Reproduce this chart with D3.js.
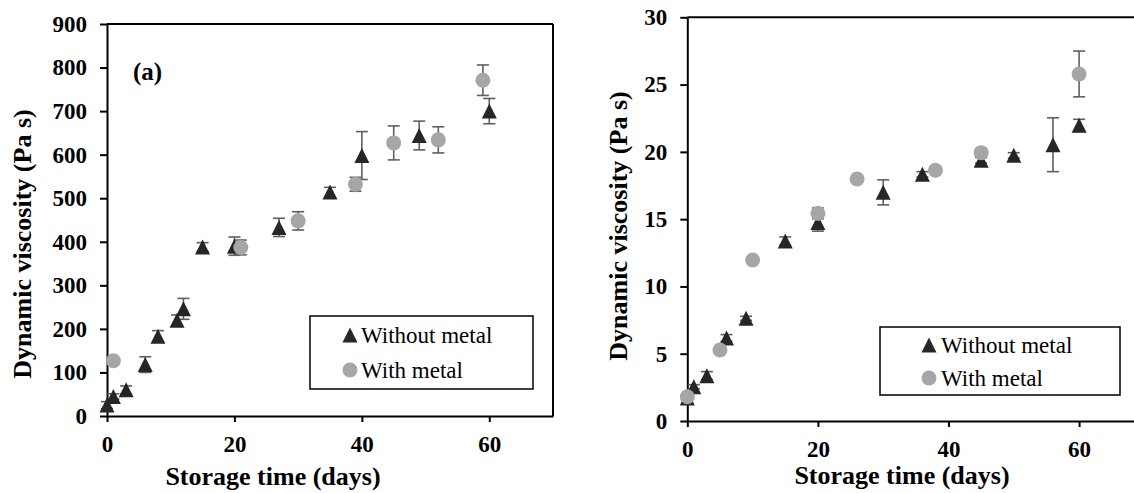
<!DOCTYPE html>
<html>
<head>
<meta charset="utf-8">
<script src="https://cdn.jsdelivr.net/npm/d3@7"></script>
<style>
  html, body { margin: 0; padding: 0; background: #fff; }
  svg { display: block; font-family: "Liberation Serif", "Times New Roman", serif; }
</style>
</head>
<body>
<svg id="chart" width="1134" height="493"></svg>
<script>
// ---------- Data (panel a) ----------
const daysA_without = [0, 1, 3, 6, 8, 11, 12, 15, 20, 27, 35, 40, 49, 60];
const viscA_without = [25, 45, 60, 118, 183, 220, 246, 388, 390, 433, 514, 598, 644, 700];
const errA_without  = [8, 6, 9, 18, 13, 12, 24, 10, 21, 21, 11, 55, 33, 29];
const daysA_with = [1, 21, 30, 39, 45, 52, 59];
const viscA_with = [127, 387, 448, 532, 627, 634, 771];
const errA_with  = [5, 17, 21, 16, 39, 30, 35];
const yTicksA = [0, 100, 200, 300, 400, 500, 600, 700, 800, 900];

// ---------- Data (panel b) ----------
const daysB_without = [0, 1, 3, 6, 9, 15, 20, 30, 36, 45, 50, 56, 60];
const viscB_without = [1.7, 2.55, 3.37, 6.17, 7.63, 13.38, 14.76, 16.99, 18.33, 19.37, 19.74, 20.53, 21.97];
const errB_without  = [0.3, 0.15, 0.3, 0.25, 0.15, 0.3, 0.65, 0.93, 0.2, 0.2, 0.2, 2.0, 0.45];
const daysB_with = [0, 5, 10, 20, 26, 38, 45, 60];
const viscB_with = [1.8, 5.28, 11.96, 15.43, 17.98, 18.63, 19.94, 25.79];
const errB_with  = [0.1, 0.1, 0.1, 0.4, 0.1, 0.1, 0.1, 1.7];
const yTicksB = [0, 5, 10, 15, 20, 25, 30];

const xTicks = [0, 20, 40, 60];
const seriesNames = ["Without metal", "With metal"];

const COL_TRI = "#262626";
const COL_CIR = "#a6a6a6";
const COL_ERR = "#5f5f5f";

const svg = d3.select("#chart");

function zip(d, v, e) { return d.map((x, i) => ({ x, y: v[i], e: e[i] })); }

function triPath(s) { return `M0,${-s} L${s},${s} L${-s},${s} Z`; }

function drawPanel(cfg) {
  const g = svg.append("g");
  const x = d3.scaleLinear().domain([0, 70]).range([cfg.x0, cfg.x1]);
  const y = d3.scaleLinear().domain([0, cfg.yMax]).range([cfg.y0, cfg.y1]);

  // frame (top and right)
  g.append("line").attr("x1", cfg.x0).attr("x2", cfg.x1).attr("y1", cfg.y1).attr("y2", cfg.y1)
    .attr("stroke", "#000").attr("stroke-width", 2);
  g.append("line").attr("x1", cfg.x1).attr("x2", cfg.x1).attr("y1", cfg.y1).attr("y2", cfg.y0)
    .attr("stroke", "#000").attr("stroke-width", 2);

  // axes
  const yAxis = d3.axisLeft(y).tickValues(cfg.yTicks).tickSize(7).tickSizeOuter(0).tickPadding(13);
  const xAxis = d3.axisBottom(x).tickValues(xTicks).tickSize(6).tickSizeOuter(0).tickPadding(13.5);
  const ya = g.append("g").attr("transform", `translate(${cfg.x0},0)`).call(yAxis);
  const xa = g.append("g").attr("transform", `translate(0,${cfg.y0})`).call(xAxis);
  [ya, xa].forEach(a => {
    a.select(".domain").attr("stroke", "#000").attr("stroke-width", 2);
    a.selectAll(".tick line").attr("stroke", "#000").attr("stroke-width", 2);
    a.selectAll(".tick text").attr("fill", "#000")
      .style("font-family", '"Liberation Serif", serif')
      .style("font-weight", "bold").style("font-size", "23px");
  });

  // series
  const dW = zip(cfg.dW, cfg.vW, cfg.eW);
  const dC = zip(cfg.dC, cfg.vC, cfg.eC);

  function errBars(data) {
    const eb = g.append("g").attr("stroke", COL_ERR).attr("stroke-width", 1.6);
    data.forEach(d => {
      const px = x(d.x), yt = y(d.y + d.e), yb = y(d.y - d.e);
      eb.append("line").attr("x1", px).attr("x2", px).attr("y1", yt).attr("y2", yb);
      eb.append("line").attr("x1", px - 6).attr("x2", px + 6).attr("y1", yt).attr("y2", yt);
      eb.append("line").attr("x1", px - 6).attr("x2", px + 6).attr("y1", yb).attr("y2", yb);
    });
  }
  errBars(dW);
  g.append("g").selectAll("path").data(dW).join("path")
    .attr("d", triPath(7.5))
    .attr("transform", d => `translate(${x(d.x)},${y(d.y)})`)
    .attr("fill", COL_TRI);
  errBars(dC);
  g.append("g").selectAll("circle").data(dC).join("circle")
    .attr("cx", d => x(d.x)).attr("cy", d => y(d.y)).attr("r", 7.5)
    .attr("fill", COL_CIR);

  // axis titles
  g.append("text").attr("x", cfg.xtX).attr("y", cfg.xtY).attr("text-anchor", "middle")
    .style("font-weight", "bold").style("font-size", "26px").attr("fill", "#000")
    .text("Storage time (days)");
  g.append("text").attr("transform", `translate(${cfg.ytX},${cfg.ytY}) rotate(-90)`)
    .attr("text-anchor", "middle")
    .style("font-weight", "bold").style("font-size", "26px").attr("fill", "#000")
    .text("Dynamic viscosity (Pa s)");

  // legend
  const L = cfg.legend;
  const lg = g.append("g");
  lg.append("rect").attr("x", L.x).attr("y", L.y).attr("width", L.w).attr("height", L.h)
    .attr("fill", "#fff").attr("stroke", "#000").attr("stroke-width", 1.5);
  lg.append("path").attr("d", triPath(7.5))
    .attr("transform", `translate(${L.mx},${L.r1})`).attr("fill", COL_TRI);
  lg.append("circle").attr("cx", L.mx).attr("cy", L.r2).attr("r", 7.5).attr("fill", COL_CIR);
  lg.append("text").attr("x", L.tx).attr("y", L.r1 + 7.5).style("font-size", "23px").attr("fill", "#000")
    .text(seriesNames[0]);
  lg.append("text").attr("x", L.tx).attr("y", L.r2 + 7.5).style("font-size", "23px").attr("fill", "#000")
    .text(seriesNames[1]);

  if (cfg.tag) {
    g.append("text").attr("x", cfg.tag.x).attr("y", cfg.tag.y)
      .style("font-weight", "bold").style("font-size", "25px").attr("fill", "#000")
      .text(cfg.tag.text);
  }
}

drawPanel({
  x0: 107, x1: 553, y0: 416, y1: 24, yMax: 900, yTicks: yTicksA,
  dW: daysA_without, vW: viscA_without, eW: errA_without,
  dC: daysA_with, vC: viscA_with, eC: errA_with,
  xtX: 273, xtY: 485, ytX: 31, ytY: 244,
  legend: { x: 310, y: 316, w: 223, h: 73, mx: 350, r1: 335, r2: 370, tx: 361 },
  tag: { x: 133, y: 80, text: "(a)" }
});

drawPanel({
  x0: 687.3, x1: 1144.4, y0: 421, y1: 17.3, yMax: 30, yTicks: yTicksB,
  dW: daysB_without, vW: viscB_without, eW: errB_without,
  dC: daysB_with, vC: viscB_with, eC: errB_with,
  xtX: 902, xtY: 484, ytX: 627, ytY: 226,
  legend: { x: 880, y: 327, w: 240, h: 68, mx: 929, r1: 345, r2: 378, tx: 941 },
  tag: null
});
</script>
</body>
</html>
